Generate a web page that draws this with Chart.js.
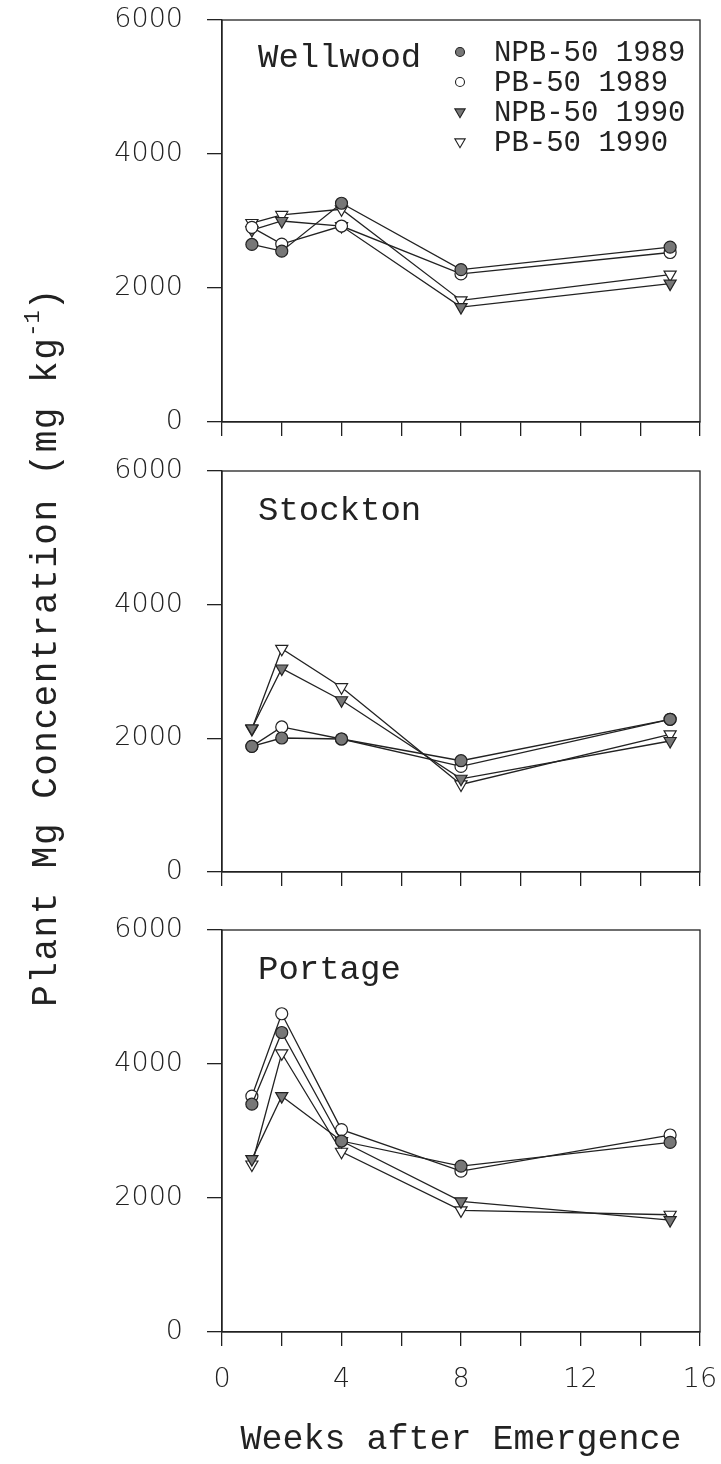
<!DOCTYPE html>
<html lang="en">
  <head>
    <meta http-equiv="content-type" content="text/html; charset=UTF-8">
    <title>Plant Mg Concentration</title>
    <style>
      body { margin: 0; background: #fff; }
      .page { position: relative; width: 721px; height: 1464px; overflow: hidden; }
      .panel { position: absolute; left: 0; width: 721px; }
      .ytitle {
        position: absolute; left: -362px; top: 627px; width: 800px; height: 40px;
        line-height: 40px; text-align: center; transform: rotate(-90deg);
        font-family: "Liberation Mono", monospace; font-size: 36px; letter-spacing: 1.5px;
        color: #222; white-space: nowrap;
      }
      .ytitle sup { font-size: 22px; position: relative; top: -4px; letter-spacing: 0; }
    </style>
  </head>
  <body>
    <div class="page">
      <div class="panel" style="top: 0; height: 450px;"><canvas id="wellwood"></canvas></div>
      <div class="panel" style="top: 450px; height: 450px;"><canvas id="stockton"></canvas></div>
      <div class="panel" style="top: 900px; height: 564px;"><canvas id="portage"></canvas></div>
      <div class="ytitle">Plant Mg Concentration (mg kg<sup>-1</sup>)</div>
    </div>
  </body>
  <script src="https://cdn.jsdelivr.net/npm/chart.js"></script>
  <script>
    // weeks after emergence
    const weeks = [1, 2, 4, 8, 15];
    const seriesNames = ['NPB-50 1989', 'PB-50 1989', 'NPB-50 1990', 'PB-50 1990'];

    const wellwoodNpb89 = [2650, 2550, 3265, 2275, 2610];
    const wellwoodPb89 = [2905, 2655, 2925, 2210, 2530];
    const wellwoodNpb90 = [2865, 3000, 2925, 1715, 2065];
    const wellwoodPb90 = [2970, 3090, 3175, 1815, 2200];

    const stocktonNpb89 = [1880, 2005, 1990, 1665, 2285];
    const stocktonPb89 = [1880, 2170, 1990, 1580, 2285];
    const stocktonNpb90 = [2150, 3045, 2570, 1395, 1960];
    const stocktonPb90 = [2140, 3340, 2765, 1310, 2060];

    const portageNpb89 = [3400, 4470, 2850, 2475, 2830];
    const portagePb89 = [3520, 4750, 3020, 2400, 2940];
    const portageNpb90 = [2580, 3520, 2850, 1950, 1670];
    const portagePb90 = [2500, 4160, 2690, 1815, 1750];

    const yTicks = [0, 2000, 4000, 6000];
    const xTickLabels = [0, 4, 8, 12, 16];

    const ink = '#222';
    const grayFill = '#777';

    /* marker style for each series */
    const markers = [
      { pointStyle: 'circle', fill: grayFill, rotation: 0 },
      { pointStyle: 'circle', fill: '#fff', rotation: 0 },
      { pointStyle: 'triangle', fill: grayFill, rotation: 180 },
      { pointStyle: 'triangle', fill: '#fff', rotation: 180 }
    ];

    function makeDatasets(lists) {
      return lists.map((vals, i) => ({
        label: seriesNames[i],
        data: weeks.map((w, j) => ({ x: w, y: vals[j] })),
        showLine: true,
        borderColor: ink,
        borderWidth: 1.3,
        pointStyle: markers[i].pointStyle,
        rotation: markers[i].rotation,
        pointRadius: markers[i].pointStyle === 'circle' ? 6 : 7,
        pointBackgroundColor: markers[i].fill,
        pointBorderColor: ink,
        pointBorderWidth: 1.2,
        backgroundColor: markers[i].fill
      }));
    }

    /* small marker for the legend */
    function drawMarker(ctx, m, x, y, r) {
      ctx.beginPath();
      if (m.pointStyle === 'circle') {
        ctx.arc(x, y, r, 0, Math.PI * 2);
      } else {
        const s = r * 1.15;
        ctx.moveTo(x - s, y - s * 0.6);
        ctx.lineTo(x + s, y - s * 0.6);
        ctx.lineTo(x, y + s * 1.1);
        ctx.closePath();
      }
      ctx.fillStyle = m.fill;
      ctx.fill();
      ctx.lineWidth = 1.1;
      ctx.strokeStyle = ink;
      ctx.stroke();
    }

    /* box around the plot, site name and legend */
    const framePlugin = {
      id: 'frame',
      afterDraw(chart, args, opts) {
        const { ctx, chartArea: a } = chart;
        ctx.save();
        ctx.strokeStyle = ink;
        ctx.lineWidth = 1.3;
        ctx.strokeRect(a.left, a.top, a.right - a.left, a.bottom - a.top);
        ctx.fillStyle = ink;
        ctx.textBaseline = 'middle';
        ctx.font = '34px "Liberation Mono", monospace';
        ctx.fillText(opts.site, a.left + 36, a.top + opts.siteY);
        if (opts.legend) {
          ctx.font = '29px "Liberation Mono", monospace';
          seriesNames.forEach((name, i) => {
            const y = a.top + 32 + i * 30;
            drawMarker(ctx, markers[i], a.left + 238, y, 4.5);
            ctx.fillStyle = ink;
            ctx.fillText(name, a.left + 272, y + 1);
          });
        }
        ctx.restore();
      }
    };

    const tickFont = { family: '"DejaVu Sans", sans-serif', size: 27, weight: 200 };

    function makeChart(id, lists, cfg) {
      return new Chart(document.getElementById(id), {
        type: 'scatter',
        data: { datasets: makeDatasets(lists) },
        plugins: [framePlugin],
        options: {
          responsive: true,
          maintainAspectRatio: false,
          animation: false,
          layout: { autoPadding: false, padding: { top: cfg.top, right: 21, left: 0, bottom: 0 } },
          plugins: {
            legend: { display: false },
            tooltip: { enabled: false },
            frame: { site: cfg.site, siteY: cfg.siteY, legend: cfg.legend }
          },
          scales: {
            x: {
              type: 'linear',
              min: 0,
              max: 16,
              afterFit: (scale) => {
                scale.height = cfg.xHeight;
                scale.paddingLeft = 0;
                scale.paddingRight = 0;
              },
              afterBuildTicks: (scale) => {
                scale.ticks = [];
                for (let v = 0; v <= 16; v += 2) scale.ticks.push({ value: v });
              },
              border: { display: true, color: ink, width: 1.3 },
              grid: { drawOnChartArea: false, drawTicks: true, tickLength: 14, color: ink, lineWidth: 1.3 },
              ticks: {
                display: cfg.xLabels,
                autoSkip: false,
                maxRotation: 0,
                padding: 18,
                color: ink,
                font: tickFont,
                callback: (v) => xTickLabels.includes(v) ? String(v) : ''
              },
              title: {
                display: cfg.xLabels,
                text: 'Weeks after Emergence',
                color: ink,
                font: { family: '"Liberation Mono", monospace', size: 35 },
                padding: { top: 0, bottom: 3 }
              }
            },
            y: {
              type: 'linear',
              min: 0,
              max: 6000,
              afterFit: (scale) => {
                scale.width = 222;
                scale.paddingTop = 0;
                scale.paddingBottom = 0;
              },
              afterBuildTicks: (scale) => { scale.ticks = yTicks.map(v => ({ value: v })); },
              border: { display: true, color: ink, width: 1.3 },
              grid: { drawOnChartArea: false, drawTicks: true, tickLength: 15, color: ink, lineWidth: 1.3 },
              ticks: { padding: 24, color: ink, font: tickFont, callback: (v) => String(v) }
            }
          }
        }
      });
    }

    makeChart('wellwood', [wellwoodNpb89, wellwoodPb89, wellwoodNpb90, wellwoodPb90],
      { top: 20, xHeight: 28, xLabels: false, site: 'Wellwood', siteY: 38, legend: true });
    makeChart('stockton', [stocktonNpb89, stocktonPb89, stocktonNpb90, stocktonPb90],
      { top: 21, xHeight: 28, xLabels: false, site: 'Stockton', siteY: 40, legend: false });
    makeChart('portage', [portageNpb89, portagePb89, portageNpb90, portagePb90],
      { top: 30, xHeight: 132, xLabels: true, site: 'Portage', siteY: 40, legend: false });
  </script>
</html>
